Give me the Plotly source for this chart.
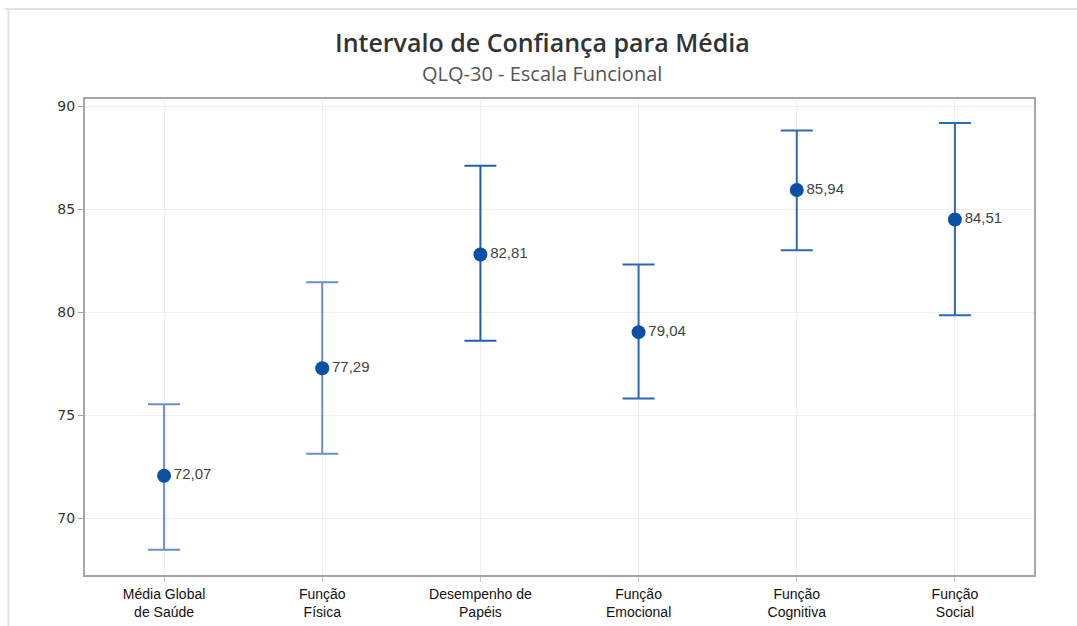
import plotly.graph_objects as go

categories = ["Média Global<br>de Saúde", "Função<br>Física", "Desempenho de<br>Papéis",
              "Função<br>Emocional", "Função<br>Cognitiva", "Função<br>Social"]
means = [72.07, 77.29, 82.81, 79.04, 85.94, 84.51]
upper = [75.54, 81.46, 87.12, 82.33, 88.83, 89.20]
lower = [68.47, 73.14, 78.62, 75.82, 83.02, 79.86]
labels = ["72,07", "77,29", "82,81", "79,04", "85,94", "84,51"]
bar_colors = ["#6a8fcb", "#6a8fcb", "#1c5fb3", "#2a67b6", "#2a6ab8", "#2a6ab8"]
y_ticks = [70, 75, 80, 85, 90]

fig = go.Figure()
for i, cat in enumerate(categories):
    fig.add_trace(go.Scatter(
        x=[i], y=[means[i]], mode="markers+text",
        text=[labels[i]], textposition="middle right",
        textfont=dict(family="Liberation Sans, Arial", size=15, color="#444"),
        marker=dict(size=14, color="#0b4fa6"),
        error_y=dict(type="data", symmetric=False,
                     array=[upper[i] - means[i]], arrayminus=[means[i] - lower[i]],
                     color=bar_colors[i], thickness=2, width=16),
        showlegend=False, cliponaxis=False,
    ))

fig.update_layout(
    width=1077, height=626,
    margin=dict(l=85, r=43, t=99, b=51),
    paper_bgcolor="white", plot_bgcolor="white",
    xaxis=dict(
        range=[-0.5, 5.5], tickmode="array", tickvals=list(range(len(categories))),
        ticktext=categories, showgrid=True, gridcolor="#f0f0f0", gridwidth=1,
        showline=True, mirror=True, linecolor="#a6a6a6", linewidth=2,
        ticks="outside", ticklen=5, tickcolor="#c8c8c8",
        tickfont=dict(family="Liberation Sans, Arial", size=14, color="#111"),
        zeroline=False, automargin=False, fixedrange=True,
    ),
    yaxis=dict(
        range=[67.25, 90.36], tickmode="array", tickvals=y_ticks,
        ticktext=[str(v) for v in y_ticks], showgrid=True, gridcolor="#f0f0f0", gridwidth=1,
        showline=True, mirror=True, linecolor="#a6a6a6", linewidth=2,
        ticks="outside", ticklen=5, tickcolor="#a0a0a0",
        tickfont=dict(family="DejaVu Sans", size=14, color="#333"),
        zeroline=False, automargin=False, fixedrange=True,
    ),
    annotations=[
        dict(text="Intervalo de Confiança para Média", xref="paper", yref="paper",
             x=0.482, y=1.12, xanchor="center", yanchor="middle", showarrow=False,
             font=dict(family="Open Sans", size=25, color="#333", weight=600)),
        dict(text="QLQ-30 - Escala Funcional", xref="paper", yref="paper",
             x=0.482, y=1.053, xanchor="center", yanchor="middle", showarrow=False,
             font=dict(family="Open Sans", size=20, color="#555")),
    ],
    shapes=[
        dict(type="line", xref="paper", yref="paper", x0=-0.0806, x1=-0.0806,
             y0=-0.11, y1=1.189, line=dict(color="#e2e2e2", width=2)),
        dict(type="line", xref="paper", yref="paper", x0=-0.085, x1=1.05,
             y0=1.189, y1=1.189, line=dict(color="#e2e2e2", width=2)),
    ],
)

fig.write_html("out.html")
